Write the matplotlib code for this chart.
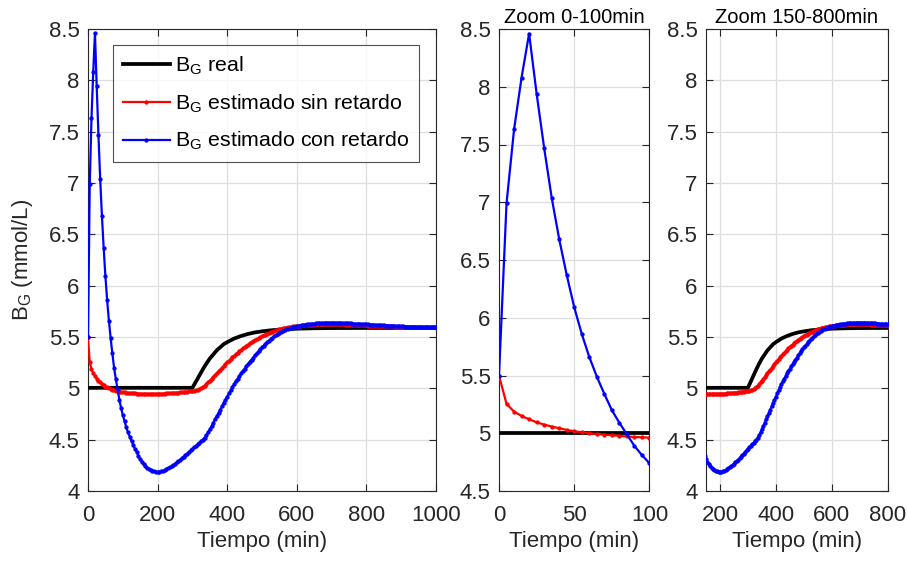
import matplotlib
matplotlib.use("Agg")
import matplotlib.pyplot as plt

plt.rcParams['font.family'] = ['Liberation Sans', 'DejaVu Sans']
plt.rcParams['mathtext.fontset'] = 'custom'
plt.rcParams['mathtext.rm'] = 'Liberation Sans'
plt.rcParams['mathtext.it'] = 'Liberation Sans:italic'

# ---------------- data ----------------
t = list(range(0, 1001, 5))

bg_con_retardo = [
    5.50, 6.99, 7.63, 8.08, 8.46, 7.94, 7.47, 7.04, 6.68, 6.37,      # 0-45
    6.09, 5.86, 5.66, 5.49, 5.34, 5.20, 5.09, 4.99, 4.89, 4.81,      # 50-95
    4.74, 4.68, 4.62, 4.57, 4.53, 4.49, 4.45, 4.41, 4.38, 4.34,      # 100-145
    4.31, 4.285, 4.26, 4.24, 4.225, 4.21, 4.20, 4.195, 4.19, 4.187,  # 150-195
    4.186, 4.188, 4.19, 4.195, 4.20, 4.21, 4.22, 4.23, 4.24, 4.25,   # 200-245
    4.265, 4.28, 4.29, 4.305, 4.32, 4.335, 4.35, 4.365, 4.38, 4.395, # 250-295
    4.41, 4.425, 4.44, 4.455, 4.47, 4.485, 4.50, 4.52, 4.545, 4.57,  # 300-345
    4.60, 4.63, 4.665, 4.70, 4.73, 4.76, 4.79, 4.825, 4.86, 4.89,    # 350-395
    4.92, 4.95, 4.98, 5.01, 5.04, 5.07, 5.095, 5.12, 5.145, 5.17,    # 400-445
    5.19, 5.215, 5.235, 5.26, 5.28, 5.30, 5.32, 5.34, 5.36, 5.38,    # 450-495
    5.40, 5.415, 5.43, 5.45, 5.465, 5.48, 5.49, 5.505, 5.515, 5.53,  # 500-545
    5.54, 5.55, 5.56, 5.565, 5.575, 5.58, 5.587, 5.592, 5.597, 5.601,  # 550-595
    5.605, 5.608, 5.611, 5.614, 5.617, 5.62, 5.622, 5.624, 5.626, 5.628,  # 600-645
    5.63, 5.632, 5.634, 5.635, 5.636, 5.637, 5.638, 5.639, 5.64, 5.64,    # 650-695
    5.64, 5.64, 5.64, 5.639, 5.639, 5.638, 5.637, 5.636, 5.635, 5.634,    # 700-745
    5.633, 5.632, 5.631, 5.630, 5.629, 5.628, 5.627, 5.626, 5.625, 5.624, # 750-795
    5.623, 5.622, 5.621, 5.620, 5.619, 5.618, 5.617, 5.616, 5.615, 5.614, # 800-845
    5.613, 5.612, 5.611, 5.610, 5.609, 5.608, 5.607, 5.606, 5.605, 5.604, # 850-895
    5.604, 5.603, 5.602, 5.602, 5.601, 5.600, 5.600, 5.599, 5.599, 5.598, # 900-945
    5.598, 5.597, 5.597, 5.596, 5.596, 5.596, 5.595, 5.595, 5.595, 5.594, # 950-995
    5.594,                                                                 # 1000
]

bg_sin_retardo = [
    5.50, 5.254, 5.187, 5.15, 5.121, 5.095, 5.075, 5.058, 5.043, 5.029,   # 0-45
    5.017, 5.009, 5.000, 4.994, 4.988, 4.983, 4.977, 4.972, 4.968, 4.965, # 50-95
    4.962, 4.960, 4.958, 4.956, 4.954, 4.952, 4.951, 4.950, 4.949, 4.948, # 100-145
    4.947, 4.947, 4.946, 4.946, 4.946, 4.945, 4.945, 4.945, 4.945, 4.945, # 150-195
    4.946, 4.946, 4.947, 4.948, 4.949, 4.950, 4.951, 4.952, 4.953, 4.955, # 200-245
    4.956, 4.958, 4.959, 4.961, 4.963, 4.965, 4.966, 4.968, 4.970, 4.972, # 250-295
    4.974, 4.976, 4.979, 4.983, 4.990, 5.000, 5.012, 5.026, 5.041, 5.057, # 300-345
    5.074, 5.092, 5.110, 5.128, 5.146, 5.164, 5.182, 5.200, 5.218, 5.235, # 350-395
    5.252, 5.269, 5.285, 5.301, 5.317, 5.332, 5.347, 5.361, 5.375, 5.388, # 400-445
    5.401, 5.414, 5.426, 5.438, 5.449, 5.460, 5.470, 5.480, 5.490, 5.499, # 450-495
    5.508, 5.516, 5.524, 5.532, 5.539, 5.546, 5.552, 5.558, 5.564, 5.569, # 500-545
    5.574, 5.579, 5.583, 5.587, 5.591, 5.594, 5.597, 5.600, 5.603, 5.605, # 550-595
    5.607, 5.609, 5.611, 5.613, 5.614, 5.616, 5.617, 5.618, 5.619, 5.620, # 600-645
    5.621, 5.622, 5.622, 5.623, 5.623, 5.624, 5.624, 5.624, 5.624, 5.624, # 650-695
    5.624, 5.624, 5.624, 5.623, 5.623, 5.623, 5.622, 5.622, 5.621, 5.621, # 700-745
    5.620, 5.619, 5.619, 5.618, 5.617, 5.617, 5.616, 5.615, 5.615, 5.614, # 750-795
    5.613, 5.612, 5.612, 5.611, 5.610, 5.609, 5.609, 5.608, 5.607, 5.607, # 800-845
    5.606, 5.605, 5.605, 5.604, 5.603, 5.603, 5.602, 5.602, 5.601, 5.601, # 850-895
    5.600, 5.600, 5.599, 5.599, 5.598, 5.598, 5.598, 5.597, 5.597, 5.597, # 900-945
    5.596, 5.596, 5.596, 5.595, 5.595, 5.595, 5.595, 5.594, 5.594, 5.594, # 950-995
    5.594,                                                                 # 1000
]

t_real = [0, 300, 305, 310, 315, 320, 325, 330, 340, 350, 360, 370, 380, 390,
          400, 420, 440, 460, 480, 500, 525, 550, 575, 600, 650, 700, 800, 1000]
bg_real = [5.005, 5.005, 5.035, 5.065, 5.095, 5.125, 5.155, 5.185, 5.24, 5.29,
           5.33, 5.37, 5.40, 5.43, 5.45, 5.485, 5.51, 5.53, 5.545, 5.555,
           5.565, 5.572, 5.577, 5.581, 5.585, 5.587, 5.588, 5.588]

labels = [r'B$_{\mathrm{G}}$ real',
          r'B$_{\mathrm{G}}$ estimado sin retardo',
          r'B$_{\mathrm{G}}$ estimado con retardo']

ylabel = r'B$_{\mathrm{G}}$ (mmol/L)'
xlabel = 'Tiempo (min)'

main_xticks = [0, 200, 400, 600, 800, 1000]
main_yticks = [4, 4.5, 5, 5.5, 6, 6.5, 7, 7.5, 8, 8.5]
main_yticklabels = ['4', '4.5', '5', '5.5', '6', '6.5', '7', '7.5', '8', '8.5']

zoom1_title = 'Zoom 0-100min'
zoom1_xticks = [0, 50, 100]
zoom1_yticks = [4.5, 5, 5.5, 6, 6.5, 7, 7.5, 8, 8.5]
zoom1_yticklabels = ['4.5', '5', '5.5', '6', '6.5', '7', '7.5', '8', '8.5']

zoom2_title = 'Zoom 150-800min'
zoom2_xticks = [200, 400, 600, 800]

# ---------------- figure ----------------
W, H = 907, 561
fig = plt.figure(figsize=(W / 100, H / 100), dpi=100)

def frac(l, r, top, bot):
    return [l / W, 1 - bot / H, (r - l) / W, (bot - top) / H]

ax0 = fig.add_axes(frac(88, 436, 29, 491))
ax1 = fig.add_axes(frac(499, 649.5, 29, 491))
ax2 = fig.add_axes(frac(706, 887.7, 29, 491))

dark = '#262626'
for ax in (ax0, ax1, ax2):
    ax.plot(t_real, bg_real, color='black', lw=2.7, zorder=3)
    ax.plot(t, bg_sin_retardo, color='red', lw=1.6, marker='.', ms=4.2, zorder=4)
    ax.plot(t, bg_con_retardo, color='blue', lw=1.6, marker='.', ms=4.2, zorder=5)
    ax.grid(True, color='#dedede', lw=0.9)
    ax.set_axisbelow(True)
    ax.tick_params(direction='in', top=True, right=True, length=5, width=0.8,
                   labelsize=16, colors=dark)
    ax.tick_params(axis='x', pad=10)
    ax.tick_params(axis='y', pad=6)
    for s in ax.spines.values():
        s.set_color(dark)
        s.set_linewidth(0.8)
    ax.set_xlabel(xlabel, fontsize=16, color=dark, labelpad=4)

ax0.set_xlim(0, 1000)
ax0.set_ylim(4, 8.5)
ax0.set_xticks(main_xticks)
ax0.set_yticks(main_yticks)
ax0.set_yticklabels(main_yticklabels)
ax0.set_ylabel(ylabel, fontsize=16, color=dark, labelpad=10)

ax1.set_xlim(0, 100)
ax1.set_ylim(4.5, 8.5)
ax1.set_xticks(zoom1_xticks)
ax1.set_yticks(zoom1_yticks)
ax1.set_yticklabels(zoom1_yticklabels)
ax1.set_title(zoom1_title, fontsize=14.5, color='black', pad=4)

ax2.set_xlim(150, 800)
ax2.set_ylim(4, 8.5)
ax2.set_xticks(zoom2_xticks)
ax2.set_yticks(main_yticks)
ax2.set_yticklabels(main_yticklabels)
ax2.set_title(zoom2_title, fontsize=14.5, color='black', pad=4)

handles = ax0.get_lines()[:3]
leg = ax0.legend(handles, labels, loc='upper left',
                 bbox_to_anchor=(113 / W, 1 - 45 / H), bbox_transform=fig.transFigure,
                 fontsize=15.4, frameon=True, fancybox=False, numpoints=1,
                 handlelength=2.2, handletextpad=0.25, labelspacing=0.72,
                 borderpad=0.45, borderaxespad=0)
leg.get_frame().set_edgecolor(dark)
leg.get_frame().set_linewidth(0.8)
for txt in leg.get_texts():
    txt.set_color('black')

fig.savefig('out.png', dpi=100)
